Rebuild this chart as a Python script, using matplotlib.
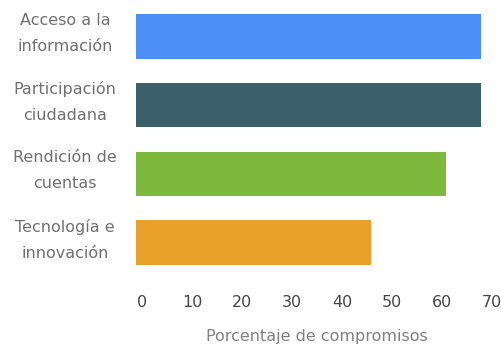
import matplotlib
matplotlib.use("Agg")
from matplotlib import pyplot as plt
from matplotlib.transforms import ScaledTranslation

categories = ["Acceso a la\ninformación", "Participación\nciudadana",
              "Rendición de\ncuentas", "Tecnología e\ninnovación"]
values = [69, 69, 62, 47]
colors = ["#4b8ff7", "#3c5f6c", "#7cb93c", "#e9a02b"]
xticks = [0, 10, 20, 30, 40, 50, 60, 70]

plt.rcParams['font.family'] = ['DejaVu Sans']

fig = plt.figure(figsize=(5.02, 3.44), dpi=100)
W, H = 502, 344
ax = fig.add_axes([136 / W, 1 - 277 / H, 350 / W, 275 / H])

ypos = range(len(categories))
ax.barh(ypos, values, height=0.65, color=colors)
ax.set_ylim(3.5, -0.5)
ax.set_xlim(0, 70)

ax.set_yticks(list(ypos))
ax.set_yticklabels(categories, ha='center', va='center', linespacing=1.9,
                   fontsize=11.5, color="#707070")
ax.tick_params(axis='y', length=0, pad=51)
for lab in ax.get_yticklabels():
	lab.set_transform(lab.get_transform() + ScaledTranslation(0, 3 / 100, fig.dpi_scale_trans))

ax.set_xticks(xticks)
ax.set_xticklabels([str(t) for t in xticks], fontsize=11.5, color="#454545")
ax.tick_params(axis='x', length=0, pad=13)
for lab in ax.get_xticklabels():
	lab.set_transform(lab.get_transform() + ScaledTranslation(6 / 100, 0, fig.dpi_scale_trans))

ax.set_xlabel("Porcentaje de compromisos", fontsize=11.5, color="#808080", labelpad=14)
ax.xaxis.label.set_transform(ax.xaxis.label.get_transform() + ScaledTranslation(6 / 100, 0, fig.dpi_scale_trans))

for s in ax.spines.values():
	s.set_visible(False)

fig.savefig("out.png", dpi=100)
